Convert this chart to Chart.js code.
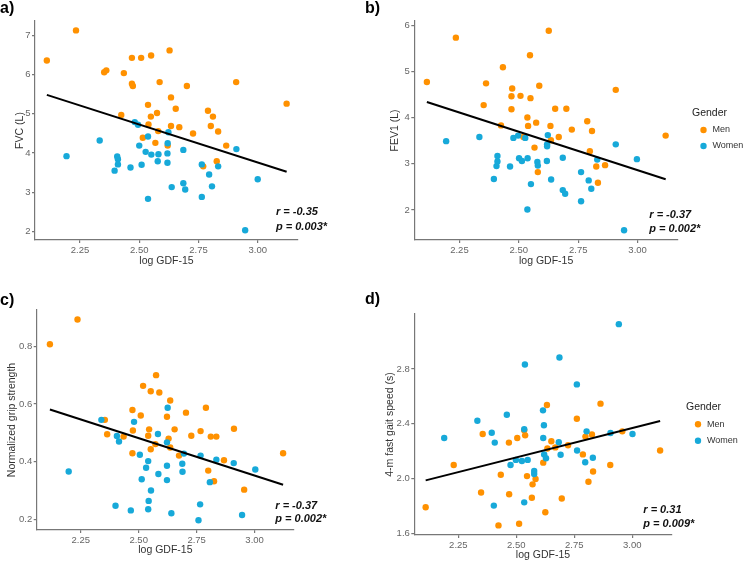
<!DOCTYPE html>
<html>
<head>
<meta charset="utf-8">
<script src="https://cdn.jsdelivr.net/npm/chart.js@4.4.1/dist/chart.umd.min.js"></script>
<style>
  html, body { margin: 0; padding: 0; background: #fff; overflow: hidden; width: 746px; height: 562px; }
  canvas { position: absolute; }
</style>
</head>
<body>
<canvas id="pa"></canvas>
<canvas id="pb"></canvas>
<canvas id="pc"></canvas>
<canvas id="pd"></canvas>
<script>
// ---------------- DATA ----------------
const xTicks = [2.25, 2.50, 2.75, 3.00];
const xTickLabels = ['2.25', '2.50', '2.75', '3.00'];

const yTicksA = [2, 3, 4, 5, 6, 7];
const yTickLabelsA = ['2', '3', '4', '5', '6', '7'];
const yTicksB = [2, 3, 4, 5, 6];
const yTickLabelsB = ['2', '3', '4', '5', '6'];
const yTicksC = [0.2, 0.4, 0.6, 0.8];
const yTickLabelsC = ['0.2', '0.4', '0.6', '0.8'];
const yTicksD = [1.6, 2.0, 2.4, 2.8];
const yTickLabelsD = ['1.6', '2.0', '2.4', '2.8'];

const genders = ['Men', 'Women'];

// a) FVC (L)
const menFVC = [[2.11,6.36],[2.233,7.13],[2.352,6.06],[2.361,6.11],[2.435,6.04],[2.469,6.43],[2.508,6.43],[2.55,6.49],[2.628,6.62],[2.469,5.77],[2.473,5.71],[2.586,5.81],[2.701,5.71],[2.909,5.81],[3.122,5.26],[2.634,5.42],[2.537,5.23],[2.654,5.13],[2.424,4.97],[2.575,5.02],[2.549,4.93],[2.79,5.08],[2.811,4.93],[2.539,4.73],[2.634,4.69],[2.669,4.66],[2.802,4.69],[2.727,4.50],[2.833,4.55],[2.58,4.56],[2.515,4.39],[2.568,4.26],[2.62,4.19],[2.867,4.19],[2.827,3.79],[2.77,3.66]];
const womenFVC = [[2.193,3.92],[2.333,4.32],[2.407,3.91],[2.41,3.84],[2.41,3.71],[2.396,3.55],[2.463,3.63],[2.51,3.70],[2.50,4.19],[2.537,4.42],[2.527,4.03],[2.551,3.96],[2.581,3.97],[2.578,3.79],[2.62,4.25],[2.619,3.99],[2.619,3.75],[2.686,4.08],[2.686,3.23],[2.694,3.07],[2.637,3.13],[2.537,2.83],[2.764,3.71],[2.795,3.45],[2.807,3.15],[2.764,2.88],[2.833,3.66],[2.91,4.10],[3.00,3.33],[2.947,2.03],[2.481,4.79],[2.495,4.72],[2.623,4.53]];
const fitFVC = [[2.11,5.485],[3.122,3.521]];
const statsFVC = ['r = -0.35', 'p = 0.003*'];

// b) FEV1 (L)
const menFEV1 = [[2.113,4.77],[2.235,5.73],[2.626,5.88],[2.547,5.35],[2.433,5.09],[2.362,4.74],[2.352,4.27],[2.472,4.63],[2.469,4.46],[2.507,4.47],[2.549,4.42],[2.586,4.69],[2.469,4.18],[2.653,4.19],[2.70,4.19],[2.908,4.60],[2.536,4.00],[2.573,3.89],[2.539,3.82],[2.425,3.83],[2.633,3.82],[2.788,3.92],[2.723,3.74],[2.808,3.71],[3.118,3.61],[2.668,3.58],[2.519,3.58],[2.635,3.51],[2.566,3.35],[2.58,2.82],[2.799,3.27],[2.826,2.94],[2.863,2.97],[2.833,2.59]];
const womenFEV1 = [[2.194,3.49],[2.334,3.58],[2.477,3.56],[2.497,3.61],[2.527,3.56],[2.622,3.62],[2.619,3.42],[2.619,3.38],[2.41,3.17],[2.41,3.05],[2.406,2.95],[2.463,2.94],[2.501,3.12],[2.513,3.06],[2.537,3.12],[2.578,3.04],[2.58,2.96],[2.618,3.06],[2.685,3.13],[2.395,2.67],[2.551,2.56],[2.636,2.66],[2.685,2.43],[2.695,2.35],[2.536,2.01],[2.762,2.82],[2.762,2.19],[2.794,2.64],[2.805,2.46],[2.83,3.09],[2.908,3.42],[2.997,3.10],[2.943,1.56]];
const fitFEV1 = [[2.113,4.338],[3.118,2.664]];
const statsFEV1 = ['r = -0.37', 'p = 0.002*'];

// c) Normalized grip strength
const menGrip = [[2.117,0.807],[2.236,0.893],[2.575,0.70],[2.519,0.663],[2.552,0.644],[2.589,0.640],[2.636,0.612],[2.473,0.579],[2.509,0.560],[2.622,0.556],[2.704,0.570],[2.79,0.587],[2.354,0.545],[2.364,0.495],[2.435,0.487],[2.475,0.508],[2.545,0.512],[2.541,0.49],[2.655,0.512],[2.629,0.48],[2.727,0.49],[2.767,0.506],[2.811,0.487],[2.835,0.487],[2.911,0.514],[2.572,0.461],[2.552,0.443],[2.473,0.429],[2.636,0.449],[2.674,0.421],[2.868,0.405],[3.123,0.429],[2.80,0.369],[2.825,0.332],[2.955,0.303]];
const womenGrip = [[2.339,0.545],[2.48,0.538],[2.625,0.587],[2.198,0.366],[2.406,0.489],[2.415,0.47],[2.40,0.247],[2.466,0.231],[2.505,0.424],[2.541,0.402],[2.532,0.379],[2.513,0.339],[2.553,0.30],[2.543,0.264],[2.541,0.235],[2.641,0.221],[2.583,0.496],[2.585,0.357],[2.622,0.467],[2.622,0.386],[2.622,0.336],[2.695,0.428],[2.688,0.393],[2.689,0.365],[2.767,0.421],[2.765,0.252],[2.758,0.197],[2.807,0.329],[2.835,0.407],[2.91,0.395],[3.003,0.373],[2.946,0.215]];
const fitGrip = [[2.117,0.581],[3.123,0.32]];
const statsGrip = ['r = -0.37', 'p = 0.002*'];

// d) 4-m fast gait speed (s)
const menGait = [[2.632,2.537],[2.863,2.547],[2.761,2.437],[2.109,1.792],[2.23,2.10],[2.348,1.90],[2.355,2.326],[2.433,2.029],[2.423,1.66],[2.468,2.263],[2.469,1.887],[2.504,2.297],[2.512,1.672],[2.534,2.354],[2.538,2.316],[2.546,2.019],[2.567,1.861],[2.57,1.959],[2.583,1.998],[2.616,2.117],[2.625,1.756],[2.634,2.22],[2.651,2.273],[2.668,2.228],[2.696,1.856],[2.723,2.244],[2.787,2.177],[2.798,2.307],[2.826,2.323],[2.831,2.053],[2.811,1.978],[2.905,2.10],[2.957,2.345],[3.12,2.206]];
const womenGait = [[2.942,3.126],[2.537,2.832],[2.686,2.883],[2.761,2.687],[2.615,2.498],[2.332,2.422],[2.459,2.466],[2.619,2.39],[2.534,2.36],[2.189,2.297],[2.394,2.335],[2.407,2.263],[2.403,1.804],[2.475,2.10],[2.498,2.137],[2.524,2.129],[2.549,2.137],[2.534,1.828],[2.577,2.057],[2.577,2.034],[2.616,2.297],[2.62,2.177],[2.628,2.149],[2.683,2.266],[2.691,2.175],[2.762,2.206],[2.797,2.12],[2.803,2.345],[2.83,2.153],[2.906,2.333],[3.001,2.326]];
const fitGait = [[2.109,1.988],[3.12,2.42]];
const statsGait = ['r = 0.31', 'p = 0.009*'];

// ---------------- STYLE / LAYOUT ----------------
const FONT = '"Liberation Sans", Arial, Helvetica, sans-serif';
Chart.defaults.font.family = FONT;
const ORANGE = '#FF9100';
const BLUE = '#17A9D9';
const AXIS = '#777777';
const TICKTXT = '#666666';
const TITLETXT = '#333333';

const toPts = arr => arr.map(p => ({x: p[0], y: p[1]}));

const statsPlugin = {
  id: 'stats',
  afterDraw(chart, args, o) {
    if (!o || !o.lines) return;
    const {ctx, chartArea} = chart;
    ctx.save();
    ctx.font = 'italic bold 11px ' + FONT;
    ctx.fillStyle = '#111';
    ctx.textAlign = 'left';
    ctx.textBaseline = 'middle';
    o.lines.forEach((t, i) => ctx.fillText(t, chartArea.right + o.dx, chartArea.bottom + o.dy[i]));
    ctx.restore();
  }
};

const panels = [
  {id: 'pa', left: 0, top: 0, w: 340, h: 270, label: 'a)', yTitle: 'FVC (L)',
   men: menFVC, women: womenFVC, fit: fitFVC, stats: statsFVC,
   yTicks: yTicksA, yLabels: yTickLabelsA, yMin: 1.78, yMax: 7.37,
   yW: 35, xH: 30, tPad: {top: 1, bottom: 4}, yTitlePad: 13.7, xTitlePad: 2.7, padRight: 42,
   legend: null, sdx: -22, sdy: [-28, -13]},
  {id: 'pb', left: 365, top: 0, w: 381, h: 270, label: 'b)', yTitle: 'FEV1 (L)',
   men: menFEV1, women: womenFEV1, fit: fitFEV1, stats: statsFEV1,
   yTicks: yTicksB, yLabels: yTickLabelsB, yMin: 1.35, yMax: 6.09,
   yW: 49.3, xH: 30, tPad: {top: 1, bottom: 4}, yTitlePad: 23.7, xTitlePad: 2.7, padRight: 0,
   legend: {tTop: 107.75, tBottom: 0.25, pad: 7, gap: 14}, sdx: -28.7, sdy: [-25, -11]},
  {id: 'pc', left: 0, top: 290, w: 340, h: 272, label: 'c)', yTitle: 'Normalized grip strength',
   men: menGrip, women: womenGrip, fit: fitGrip, stats: statsGrip,
   yTicks: yTicksC, yLabels: yTickLabelsC, yMin: 0.163, yMax: 0.926,
   yW: 36.7, xH: 32, tPad: {top: 3, bottom: 1}, yTitlePad: 5.7, xTitlePad: 5.7, padRight: 46,
   legend: null, sdx: -18.7, sdy: [-24, -10.7]},
  {id: 'pd', left: 365, top: 290, w: 375, h: 272, label: 'd)', yTitle: '4-m fast gait speed (s)',
   men: menGait, women: womenGait, fit: fitGait, stats: statsGait,
   yTicks: yTicksD, yLabels: yTickLabelsD, yMin: 1.59, yMax: 3.2,
   yW: 49.3, xH: 27, tPad: {top: 2, bottom: 6}, yTitlePad: 18.7, xTitlePad: 0.7, padRight: 0,
   legend: {tTop: 111.75, tBottom: 0, pad: 7.5, gap: 14.3}, sdx: -28.4, sdy: [-25, -11]}
];

panels.forEach(p => {
  const cv = document.getElementById(p.id);
  cv.width = p.w; cv.height = p.h;
  cv.style.left = p.left + 'px'; cv.style.top = p.top + 'px';
  cv.style.width = p.w + 'px'; cv.style.height = p.h + 'px';

  const scales = {
    x: {
      type: 'linear', position: 'bottom', min: 2.06, max: 3.17,
      afterBuildTicks: s => { s.ticks = xTicks.map(v => ({value: v})); },
      afterFit: s => { s.height = p.xH; },
      ticks: {autoSkip: false, maxRotation: 0, padding: 2, color: TICKTXT, font: {size: 9.5},
              callback: (v, i) => xTickLabels[i]},
      grid: {display: true, drawOnChartArea: false, drawTicks: true, tickLength: 3, color: AXIS, lineWidth: 1.2},
      border: {display: true, color: AXIS, width: 1.2},
      title: {display: true, text: 'log GDF-15', color: TITLETXT, font: {size: 10.5}, padding: {top: 0, bottom: p.xTitlePad}}
    },
    y: {
      type: 'linear', position: 'left', min: p.yMin, max: p.yMax,
      afterBuildTicks: s => { s.ticks = p.yTicks.map(v => ({value: v})); },
      afterFit: s => { s.width = p.yW; },
      ticks: {autoSkip: false, padding: 1.5, color: TICKTXT, font: {size: 9.5},
              callback: (v, i) => p.yLabels[i]},
      grid: {display: true, drawOnChartArea: false, drawTicks: true, tickLength: 3, color: AXIS, lineWidth: 1.2},
      border: {display: true, color: AXIS, width: 1.2},
      title: {display: true, text: p.yTitle, color: TITLETXT, font: {size: 10.5}, padding: {top: p.yTitlePad, bottom: 0}}
    }
  };
  if (p.legend) {
    scales.gap = {
      type: 'linear', position: 'right', display: true,
      afterFit: s => { s.width = p.legend.gap; },
      ticks: {display: false}, grid: {display: false}, border: {display: false}
    };
  }

  new Chart(cv, {
    type: 'scatter',
    data: {
      datasets: [
        {label: genders[0], data: toPts(p.men), backgroundColor: ORANGE, borderWidth: 0,
         pointRadius: 3.2, pointHoverRadius: 3.2, order: 2},
        {label: genders[1], data: toPts(p.women), backgroundColor: BLUE, borderWidth: 0,
         pointRadius: 3.2, pointHoverRadius: 3.2, order: 1},
        {label: 'fit', data: toPts(p.fit), showLine: true, borderColor: '#000', borderWidth: 2,
         pointRadius: 0, pointHoverRadius: 0, fill: false, order: 0}
      ]
    },
    options: {
      responsive: false, animation: false, devicePixelRatio: 1,
      layout: {padding: {left: 0, top: 0, bottom: 0, right: p.padRight}},
      scales: scales,
      plugins: {
        tooltip: {enabled: false},
        title: {display: true, text: p.label, align: 'start', color: '#000',
                font: {size: 16, weight: 'bold', lineHeight: 1}, padding: p.tPad},
        legend: p.legend ? {
          display: true, position: 'right', align: 'start', maxWidth: 54,
          title: {display: true, text: 'Gender', position: 'start', color: '#222',
                  font: {size: 10.5, lineHeight: 1}, padding: {top: p.legend.tTop, bottom: p.legend.tBottom}},
          labels: {usePointStyle: true, pointStyle: 'circle', boxWidth: 9, boxHeight: 4.5,
                   padding: p.legend.pad, color: '#333', font: {size: 9},
                   filter: item => item.datasetIndex < 2,
                   sort: (a, b) => a.datasetIndex - b.datasetIndex}
        } : {display: false},
        stats: {lines: p.stats, dx: p.sdx, dy: p.sdy}
      }
    },
    plugins: [statsPlugin]
  });
});
</script>
</body>
</html>
